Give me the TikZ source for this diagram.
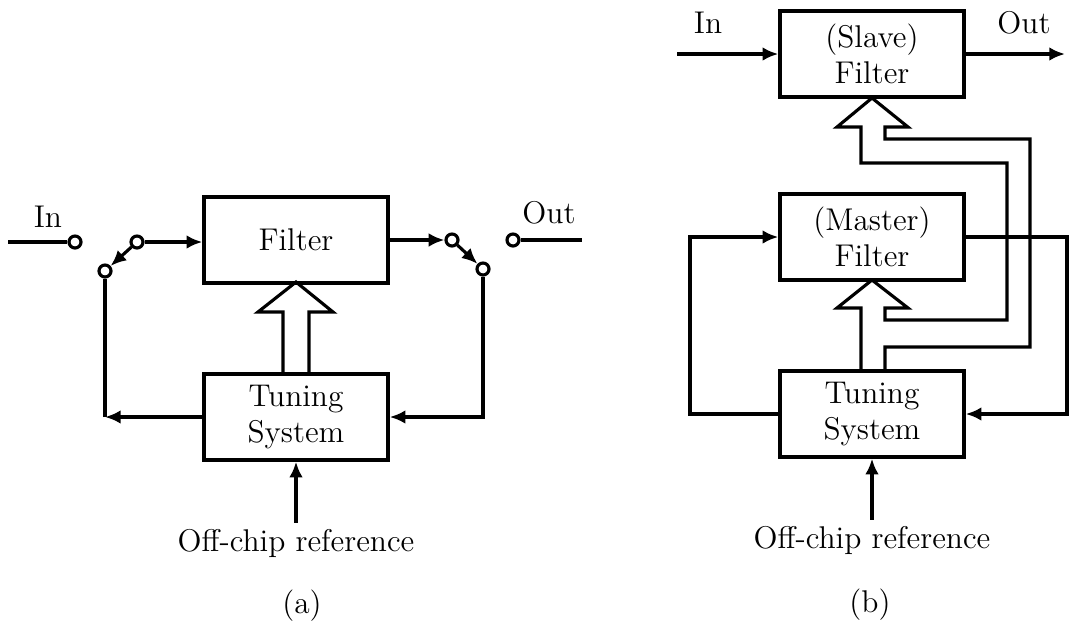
\documentclass[tikz,border=0pt]{standalone}
\usepackage{tikz}
\usetikzlibrary{arrows.meta}
\newcommand{\blklab}{\fontsize{11}{12.5}\selectfont}

\begin{document}
\begin{tikzpicture}[x=0.35pt,y=-0.35pt,
  blk/.style={draw,line width=1.2pt,minimum width=64.4pt,minimum height=30.1pt,align=center,inner sep=1pt,font=\blklab},
  sw/.style={draw,circle,line width=1.1pt,fill=white,inner sep=0pt,minimum size=4.2pt},
  lab/.style={inner sep=2pt,font=\blklab},
  wire/.style={line width=1.1pt},
  arr/.style={wire,-{Latex[length=5.5pt,width=4.8pt]}},
  hollow/.style={line width=1.1pt,line join=miter}]
\useasboundingbox (0,0) rectangle (1070,623);
% (a) single filter with switches
\node[blk] (filA) at (296,240) {Filter};
\node[blk] (tunA) at (296,417) {Tuning\\System};
\node[sw] (inA) at (75,242) {};
\node[sw] (s1) at (137,242) {};
\node[sw] (s2) at (105,271) {};
\node[sw] (s3) at (452,240) {};
\node[sw] (s4) at (483,269) {};
\node[sw] (outA) at (513,240) {};
\coordinate (inEndA) at (8,242);
\coordinate (outEndA) at (582,240);
\node[lab,anchor=base] (lblInA) at (48,227) {In};
\node[lab,anchor=base] (lblOutA) at (549,223) {Out};
\node[lab,anchor=base] (refA) at (296,551) {Off-chip reference};
\node[lab,anchor=base] (capA) at (302,613) {(a)};
\draw[wire] (inEndA) -- (inA);
\draw[arr] (s1) -- (s1 -| filA.west);
\draw[arr] (s1) -- (s2);
\draw[arr] (tunA.west) -- (s2 |- tunA.west);
\draw[wire] (s2 |- tunA.west) -- (s2);
\draw[arr] (filA.east) -- (s3);
\draw[arr] (s3) -- (s4);
\draw[arr] (s4) |- (tunA.east);
\draw[wire] (outA) -- (outEndA);
\draw[arr] (refA.north) -- (tunA.south);
\draw[hollow] (283,374) -- (283,312) -- (258,312) -- (296,282) -- (333,312) -- (309,312) -- (309,374);
% (b) master-slave
\node[blk] (slave) at (872,54) {(Slave)\\Filter};
\node[blk] (master) at (872,237) {(Master)\\Filter};
\node[blk] (tunB) at (872,414) {Tuning\\System};
\coordinate (inB) at (677,54);
\coordinate (outB) at (1065,54);
\coordinate (fbL) at (690,320);
\coordinate (fbR) at (1067,320);
\node[lab,anchor=base] (lblInB) at (708,33) {In};
\node[lab,anchor=base] (lblOutB) at (1024,33) {Out};
\node[lab,anchor=base] (refB) at (872,548) {Off-chip reference};
\node[lab,anchor=base] (capB) at (870,612) {(b)};
\draw[arr] (inB) -- (slave.west);
\draw[arr] (slave.east) -- (outB);
\draw[arr] (tunB.west) -| (fbL) |- (master.west);
\draw[arr] (master.east) -| (fbR) |- (tunB.east);
\draw[arr] (refB.north) -- (tunB.south);
\draw[hollow] (861,371) -- (861,308) -- (837,308) -- (872,280) -- (908,308) -- (885,308)
  -- (885,320) -- (1007,320) -- (1007,163) -- (861,163) -- (861,127) -- (837,127)
  -- (872,98) -- (908,127) -- (885,127) -- (885,139) -- (1030,139) -- (1030,347)
  -- (885,347) -- (885,371);
\end{tikzpicture}
\end{document}
